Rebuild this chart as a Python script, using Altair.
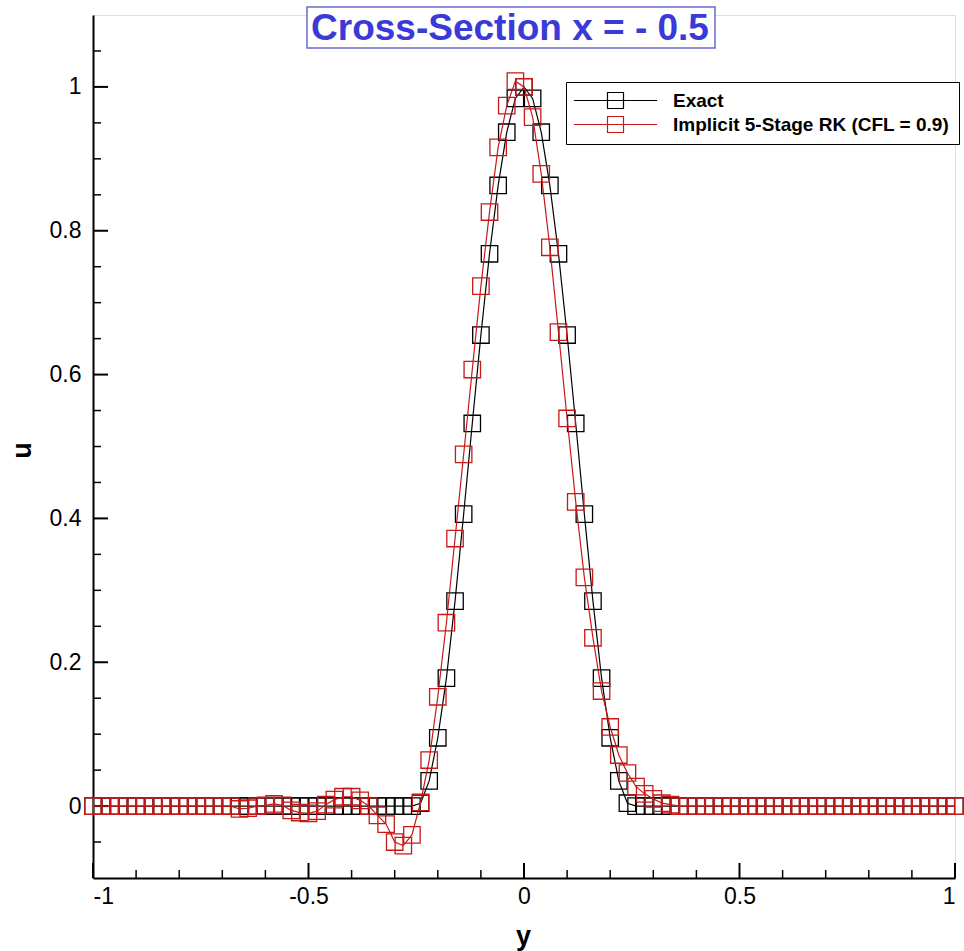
import altair as alt
import pandas as pd

# ---------------- data ----------------
y_pos = [-1.00, -0.98, -0.96, -0.94, -0.92, -0.90, -0.88, -0.86, -0.84, -0.82,
         -0.80, -0.78, -0.76, -0.74, -0.72, -0.70, -0.68, -0.66, -0.64, -0.62,
         -0.60, -0.58, -0.56, -0.54, -0.52, -0.50, -0.48, -0.46, -0.44, -0.42,
         -0.40, -0.38, -0.36, -0.34, -0.32, -0.30, -0.28, -0.26, -0.24, -0.22,
         -0.20, -0.18, -0.16, -0.14, -0.12, -0.10, -0.08, -0.06, -0.04, -0.02,
         0.00, 0.02, 0.04, 0.06, 0.08, 0.10, 0.12, 0.14, 0.16, 0.18,
         0.20, 0.22, 0.24, 0.26, 0.28, 0.30, 0.32, 0.34, 0.36, 0.38,
         0.40, 0.42, 0.44, 0.46, 0.48, 0.50, 0.52, 0.54, 0.56, 0.58,
         0.60, 0.62, 0.64, 0.66, 0.68, 0.70, 0.72, 0.74, 0.76, 0.78,
         0.80, 0.82, 0.84, 0.86, 0.88, 0.90, 0.92, 0.94, 0.96, 0.98,
         1.00]

u_exact = [0, 0, 0, 0, 0, 0, 0, 0, 0, 0,
           0, 0, 0, 0, 0, 0, 0, 0, 0, 0,
           0, 0, 0, 0, 0, 0, 0, 0, 0, 0,
           0, 0, 0, 0, 0, 0, 0, 0, 0.004, 0.035,
           0.095, 0.178, 0.285, 0.406, 0.532, 0.655, 0.768, 0.863, 0.937, 0.984,
           1.000, 0.984, 0.937, 0.863, 0.768, 0.655, 0.532, 0.406, 0.285, 0.178,
           0.095, 0.035, 0.004, 0, 0, 0, 0, 0, 0, 0,
           0, 0, 0, 0, 0, 0, 0, 0, 0, 0,
           0, 0, 0, 0, 0, 0, 0, 0, 0, 0,
           0, 0, 0, 0, 0, 0, 0, 0, 0, 0,
           0]

u_rk = [0, 0, 0, 0, 0, 0, 0, 0, 0, 0,
        0, 0, 0, 0, 0, 0, 0, -0.004, -0.003, 0.000,
        0.001, 0.003, 0.001, -0.006, -0.009, -0.010, -0.007, 0.002, 0.009, 0.013,
        0.013, 0.008, 0.000, -0.013, -0.025, -0.050, -0.055, -0.040, 0.005, 0.064,
        0.152, 0.255, 0.372, 0.489, 0.607, 0.723, 0.826, 0.916, 0.974, 1.008,
        1.000, 0.958, 0.879, 0.777, 0.659, 0.539, 0.423, 0.318, 0.234, 0.160,
        0.110, 0.071, 0.046, 0.027, 0.017, 0.010, 0.004, 0.002, 0, 0,
        0, 0, 0, 0, 0, 0, 0, 0, 0, 0,
        0, 0, 0, 0, 0, 0, 0, 0, 0, 0,
        0, 0, 0, 0, 0, 0, 0, 0, 0, 0,
        0]

series_names = ["Exact", "Implicit 5-Stage RK (CFL = 0.9)"]
series_colors = ["#000000", "#c81818"]

x_major = [-1, -0.5, 0, 0.5, 1]
x_minor = [-0.9, -0.8, -0.7, -0.6, -0.4, -0.3, -0.2, -0.1,
           0.1, 0.2, 0.3, 0.4, 0.6, 0.7, 0.8, 0.9]
y_major = [0, 0.2, 0.4, 0.6, 0.8, 1.0]
y_minor = [-0.05, 0.05, 0.1, 0.15, 0.25, 0.3, 0.35, 0.45, 0.5, 0.55,
           0.65, 0.7, 0.75, 0.85, 0.9, 0.95, 1.05]

title_text = "Cross-Section x = - 0.5"

# ---------------- tables ----------------
df = pd.concat([
    pd.DataFrame({"y": y_pos, "u": u_exact, "series": series_names[0]}),
    pd.DataFrame({"y": y_pos, "u": u_rk, "series": series_names[1]}),
], ignore_index=True)

W, H = 862, 863
FONT = "Liberation Sans"

xs = alt.Scale(domain=[-1, 1], nice=False, zero=False)
ys = alt.Scale(domain=[-0.1, 1.1], nice=False, zero=False)

lab_expr = "datum.value < 0 ? '-' + format(-datum.value, '~g') : format(datum.value, '~g')"

x_axis = alt.Axis(values=x_major, labelExpr=lab_expr, ticks=False, tickSize=0, grid=False,
                  domainColor="black", domainWidth=2, labelFont=FONT, labelFontSize=23,
                  labelColor="black", labelPadding=7, title="y", titleFont=FONT,
                  titleFontSize=27, titleFontWeight="bold", titleColor="black",
                  titleX=430, titleY=58, titleBaseline="middle", titleAlign="center")
y_axis = alt.Axis(values=y_major, labelExpr=lab_expr, ticks=False, tickSize=0, grid=False,
                  domainColor="black", domainWidth=2, labelFont=FONT, labelFontSize=23,
                  labelColor="black", labelPadding=12, title="u", titleFont=FONT,
                  titleFontSize=27, titleFontWeight="bold", titleColor="black",
                  titleX=-71, titleY=435, titleAngle=270, titleBaseline="middle",
                  titleAlign="center")

color = alt.Color(
    "series:N",
    scale=alt.Scale(domain=series_names, range=series_colors),
    legend=alt.Legend(
        title=None, orient="none", legendX=473, legendY=67,
        symbolType="M-5.2,0H5.2M-1,-1H1V1H-1Z", symbolSize=256,
        symbolStrokeWidth=1.2, symbolFillColor="transparent",
        symbolOffset=31, labelOffset=48, labelLimit=400,
        labelFont=FONT, labelFontSize=19, labelFontWeight="bold", labelColor="black",
        strokeColor="black", fillColor="white", padding=9, rowPadding=3,
    ),
)

base = alt.Chart(df).encode(
    x=alt.X("y:Q", scale=xs, axis=x_axis),
    y=alt.Y("u:Q", scale=ys, axis=y_axis),
    color=color,
    order=alt.Order("y:Q"),
)

layers = []

# inward tick marks
xt_major = alt.Chart(pd.DataFrame({"y": x_major})).mark_rule(color="black", strokeWidth=2).encode(
    x=alt.X("y:Q", scale=xs, axis=x_axis), y=alt.value(H), y2=alt.value(H - 15))
xt_minor = alt.Chart(pd.DataFrame({"y": x_minor})).mark_rule(color="black", strokeWidth=1.5).encode(
    x=alt.X("y:Q", scale=xs, axis=x_axis), y=alt.value(H), y2=alt.value(H - 8))
yt_major = alt.Chart(pd.DataFrame({"u": y_major})).mark_rule(color="black", strokeWidth=2).encode(
    y=alt.Y("u:Q", scale=ys, axis=y_axis), x=alt.value(0), x2=alt.value(15))
yt_minor = alt.Chart(pd.DataFrame({"u": y_minor})).mark_rule(color="black", strokeWidth=1.5).encode(
    y=alt.Y("u:Q", scale=ys, axis=y_axis), x=alt.value(0), x2=alt.value(8))

for name in series_names:
    sub = base.transform_filter(alt.datum.series == name)
    layers.append(sub.mark_line(strokeWidth=1.2))
    layers.append(sub.mark_point(shape="square", size=270, filled=False, strokeWidth=1.3, opacity=1))

title_df = pd.DataFrame({"t": [title_text]})
title_box = alt.Chart(title_df).mark_rect(
    fill="white", stroke="#6a6ad2", strokeWidth=1.5
).encode(x=alt.value(214), x2=alt.value(622), y=alt.value(-8), y2=alt.value(33))
title_txt = alt.Chart(title_df).mark_text(
    font=FONT, fontSize=37, fontWeight="bold", color="#3a3ad8", align="center",
    baseline="alphabetic"
).encode(text="t:N", x=alt.value(417), y=alt.value(25))

chart = alt.layer(
    xt_major, xt_minor, yt_major, yt_minor, *layers, title_box, title_txt
).properties(
    width=W, height=H,
    padding={"left": 93, "top": 15, "right": 9, "bottom": 73},
    autosize=alt.AutoSizeParams(type="none"),
).configure_view(stroke=None).configure(background="white")

chart.save("out.html", embed_options={"renderer": "svg", "actions": False})
